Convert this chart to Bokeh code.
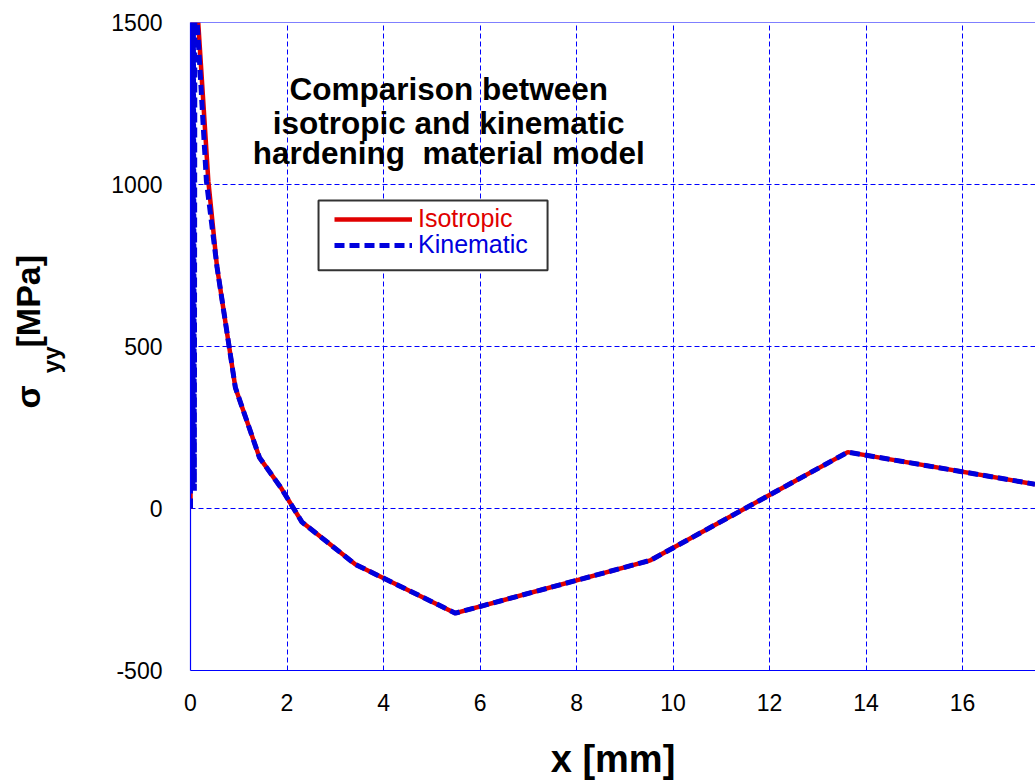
from bokeh.plotting import figure
from bokeh.models import (Range1d, Label, Legend, LegendItem, BoxAnnotation,
                          FixedTicker, Span, Title)
from bokeh.embed import file_html
from bokeh.resources import INLINE

# sigma_yy along the path, isotropic hardening model
iso_x = [0.0, 0.0, 0.16, 0.37, 0.55, 0.93, 1.43, 1.87, 2.31, 3.42, 5.49, 9.53, 13.62, 17.5]
iso_y = [0, 1500, 1500, 1010, 745, 373, 157, 65, -42, -173, -323, -160, 174, 75]

# sigma_yy along the path, kinematic hardening model
kin_x = [0.0, 0.0, 0.02, 0.03, 0.05, 0.06, 0.08, 0.09, 0.11, 0.14, 0.33, 0.55, 0.93,
         1.43, 1.87, 2.31, 3.42, 5.49, 9.53, 13.62, 17.5]
kin_y = [0, 1500, 55, 1500, 55, 1500, 55, 1500, 1500, 1500, 1010, 745, 373,
         157, 65, -42, -173, -323, -160, 174, 75]

x_ticks = [0, 2, 4, 6, 8, 10, 12, 14, 16]
y_ticks = [-500, 0, 500, 1000, 1500]

title_lines = ["Comparison between", "isotropic and kinematic", "hardening\u00a0 material model"]

GRID = "#0000ff"
NB = "\u00a0"

p = figure(width=1035, height=783, x_range=Range1d(0, 17.51), y_range=Range1d(-500, 1500),
           output_backend="svg", toolbar_location=None,
           min_border_left=190, min_border_right=0, min_border_top=22, min_border_bottom=113)
p.outline_line_color = None
p.background_fill_color = "white"
p.border_fill_color = "white"

for ax in (p.xaxis[0], p.yaxis[0]):
    ax.axis_line_color = GRID
    ax.axis_line_width = 1.2
    ax.major_tick_line_color = None
    ax.minor_tick_line_color = None
    ax.major_label_text_font = "Liberation Sans"
    ax.major_label_text_font_size = "23px"
    ax.major_label_text_color = "black"

p.xaxis.ticker = FixedTicker(ticks=x_ticks)
p.yaxis.ticker = FixedTicker(ticks=y_ticks)
p.yaxis.major_label_overrides = {v: str(v) for v in y_ticks}
p.xaxis.major_label_standoff = 17
p.yaxis.major_label_standoff = 22

p.xaxis.axis_label = "x [mm]"
p.xaxis.axis_label_text_font = "Liberation Sans"
p.xaxis.axis_label_text_font_style = "bold"
p.xaxis.axis_label_text_font_size = "38px"
p.xaxis.axis_label_text_color = "black"
p.xaxis.axis_label_standoff = 24

# subscript of sigma_yy carried by the y axis label itself
p.yaxis.axis_label = "yy" + NB * 4
p.yaxis.axis_label_text_font = "Liberation Sans"
p.yaxis.axis_label_text_font_style = "bold"
p.yaxis.axis_label_text_font_size = "24px"
p.yaxis.axis_label_text_color = "black"
p.yaxis.axis_label_standoff = 43

for g in (p.xgrid[0], p.ygrid[0]):
    g.grid_line_color = GRID
    g.grid_line_width = 1
    g.grid_line_dash = "5 3"
p.xgrid.ticker = FixedTicker(ticks=x_ticks)
p.ygrid.ticker = FixedTicker(ticks=y_ticks)

p.add_layout(Span(location=1500, dimension="width", line_color=GRID, line_width=1.2))

r_iso = p.line(iso_x, iso_y, line_color="#e00000", line_width=4.5)
r_kin = p.line(kin_x, kin_y, line_color="#0000dd", line_width=5, line_dash="10 5")

# title inside the plot area
for txt, yv in zip(title_lines, [1296, 1191, 1096]):
    p.add_layout(Label(x=5.35, y=yv, text=txt, text_align="center", text_baseline="alphabetic",
                       text_font="Liberation Sans", text_font_style="bold",
                       text_font_size="31.5px", text_color="black"))

# legend frame and entries
p.add_layout(BoxAnnotation(left=2.653, right=7.399, bottom=735, top=951,
                           fill_color="white", fill_alpha=1.0,
                           line_color="#333333", line_alpha=1.0, line_width=2))
for item_renderer, label, color, ybot in [(r_iso, "Isotropic", "#e00000", 437),
                                          (r_kin, "Kinematic", "#0000dd", 411)]:
    lg = Legend(items=[LegendItem(label=label, renderers=[item_renderer])],
                location=(144, ybot), glyph_width=78, glyph_height=20, label_height=20,
                label_standoff=6, padding=0, margin=0, spacing=0,
                border_line_color=None, background_fill_alpha=0.0,
                label_text_font="Liberation Sans", label_text_font_size="25px",
                label_text_color=color, label_text_baseline="middle")
    p.add_layout(lg)

# main part of the y label: "σ  [MPa]", overlapping the subscript column
p.add_layout(Title(text="σ" + NB * 4 + "[MPa]", align="left", offset=262, standoff=-23,
                   text_font="Liberation Sans", text_font_style="bold",
                   text_font_size="34px", text_color="black"), "left")

open("out.html", "w").write(file_html(p, INLINE))
